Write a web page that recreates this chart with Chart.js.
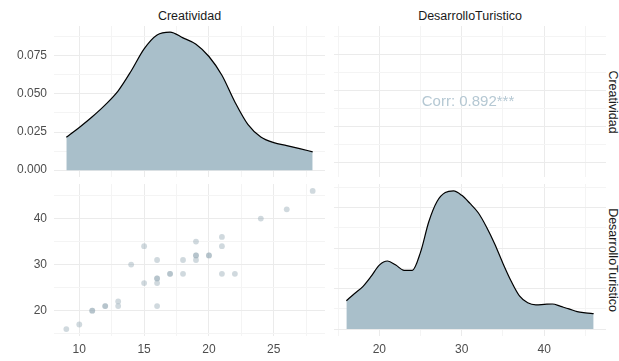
<!DOCTYPE html>
<html>
<head>
<meta charset="utf-8">
<script src="https://cdn.jsdelivr.net/npm/chart.js@4"></script>
<style>
  html, body { margin: 0; padding: 0; background: #fff; }
  #wrap { position: relative; width: 619px; height: 361px; overflow: hidden; font-family: "Liberation Sans", Arial, sans-serif; }
  .cv { position: absolute; }
  .strip { position: absolute; font-size: 12.5px; color: #1a1a1a; white-space: nowrap; transform: translate(-50%, -50%); }
  .vstrip { position: absolute; font-size: 12.5px; color: #1a1a1a; white-space: nowrap; writing-mode: vertical-rl; transform: translate(-50%, -50%); }
</style>
</head>
<body>
<div id="wrap">
  <div class="cv" style="left:0;top:26px;width:325px;height:151px"><canvas id="densA"></canvas></div>
  <div class="cv" style="left:334px;top:26px;width:272px;height:151px"><canvas id="corB"></canvas></div>
  <div class="cv" style="left:0;top:184px;width:325px;height:177px"><canvas id="scatC"></canvas></div>
  <div class="cv" style="left:334px;top:184px;width:272px;height:177px"><canvas id="densD"></canvas></div>
  <div class="strip" style="left:189.5px;top:16px">Creatividad</div>
  <div class="strip" style="left:470px;top:16px">DesarrolloTuristico</div>
  <div class="vstrip" style="left:613px;top:101.5px">Creatividad</div>
  <div class="vstrip" style="left:613px;top:260px">DesarrolloTuristico</div>
</div>
<script>
// densidad de Creatividad
const creatGrid = [9, 10, 11, 12, 13, 14, 15, 16, 17, 18, 19, 20, 21, 22, 23, 24, 25, 26, 27, 28];
const creatDens = [0.0215, 0.028, 0.035, 0.0428, 0.052, 0.065, 0.0795, 0.0886, 0.0905, 0.0867, 0.0826, 0.0745, 0.0622, 0.0447, 0.030, 0.0217, 0.018, 0.0161, 0.0141, 0.012];

// densidad de DesarrolloTuristico
const desaGrid = [16, 17, 18, 19, 20, 21, 22, 23, 24, 25, 26, 27, 28, 29, 30, 31, 32, 33, 34, 35, 36, 37, 38, 39, 40, 41, 42, 43, 44, 45, 46];
const desaDens = [0.0070, 0.0088, 0.0105, 0.0130, 0.0158, 0.0168, 0.0158, 0.0145, 0.0145, 0.0190, 0.0265, 0.0315, 0.0337, 0.0341, 0.0330, 0.0310, 0.0287, 0.0252, 0.0210, 0.0162, 0.0118, 0.0082, 0.0065, 0.0060, 0.0061, 0.0062, 0.0056, 0.0050, 0.0043, 0.0040, 0.0038];

// observaciones
const creatividad = [9, 10, 11, 11, 12, 12, 13, 13, 14, 15, 15, 16, 16, 16, 16, 16, 17, 17, 18, 18, 19, 19, 19, 19, 20, 20, 21, 21, 21, 22, 24, 26, 28];
const desarrollo  = [16, 17, 20, 20, 21, 21, 22, 21, 30, 34, 26, 31, 27, 27, 26, 21, 28, 28, 31, 28, 35, 32, 32, 31, 32, 32, 36, 34, 28, 28, 40, 42, 46];

const corrLabel = 'Corr: 0.892***';

// ticks
const creatTicks = [10, 12.5, 15, 17.5, 20, 22.5, 25, 27.5];
const creatLabels = [10, 15, 20, 25];
const densTicks = [0, 0.0125, 0.025, 0.0375, 0.05, 0.0625, 0.075, 0.0875];
const densLabels = [0, 0.025, 0.05, 0.075];
const desaTicks = [15, 20, 25, 30, 35, 40, 45];
const desaLabels = [20, 30, 40];
const desaDensTicks = [0, 0.005, 0.01, 0.015, 0.02, 0.025, 0.03, 0.035];
const desaDensLabels = [0, 0.01, 0.02, 0.03];

const fillCol = '#a9bfca';
const pointCol = 'rgba(150,170,182,0.45)';
const FONT = "'Liberation Sans', Arial, sans-serif";

function near(v, list) { return list.some(l => Math.abs(l - v) < 1e-9); }

function axis(opts) {
  // opts: min, max, ticks, labels, showLabels, size, fmt
  return {
    type: 'linear',
    min: opts.min, max: opts.max,
    border: { display: false },
    grid: {
      drawTicks: false,
      color: ctx => near(ctx.tick.value, opts.labels) ? '#ebebeb' : '#f4f4f4',
      lineWidth: 1
    },
    ticks: {
      display: opts.showLabels,
      autoSkip: false,
      padding: opts.pad || 6,
      color: '#4d4d4d',
      font: { family: FONT, size: 12 },
      callback: v => near(v, opts.labels) ? (opts.fmt ? opts.fmt(v) : String(v)) : ''
    },
    afterBuildTicks: s => { s.ticks = opts.ticks.map(v => ({ value: v })); },
    afterFit: s => {
      if (s.isHorizontal()) s.height = opts.size; else s.width = opts.size;
      // no reservar margen extra para las etiquetas
      s.paddingTop = 0; s.paddingBottom = 0; s.paddingLeft = 0; s.paddingRight = 0;
    }
  };
}

const base = {
  animation: false,
  responsive: true,
  maintainAspectRatio: false,
  layout: { padding: 0, autoPadding: false },
  plugins: { legend: { display: false }, tooltip: { enabled: false } }
};

// panel superior izquierdo: densidad Creatividad
new Chart(document.getElementById('densA'), {
  type: 'line',
  data: {
    datasets: [{
      data: creatGrid.map((x, i) => ({ x: x, y: creatDens[i] })),
      fill: 'origin',
      backgroundColor: fillCol,
      borderColor: '#000',
      borderWidth: 1.2,
      pointRadius: 0,
      cubicInterpolationMode: 'monotone'
    }]
  },
  options: Object.assign({}, base, {
    scales: {
      x: axis({ min: 8.05, max: 28.95, ticks: creatTicks, labels: creatLabels, showLabels: false, size: 0 }),
      y: axis({ min: -0.0045, max: 0.0945, ticks: densTicks, labels: densLabels, showLabels: true, size: 54, pad: 7, fmt: v => v.toFixed(3) })
    }
  })
});

// panel superior derecho: correlacion
new Chart(document.getElementById('corB'), {
  type: 'scatter',
  data: { datasets: [{ data: [] }] },
  options: Object.assign({}, base, {
    scales: {
      x: axis({ min: 14.5, max: 47.5, ticks: desaTicks, labels: desaLabels, showLabels: false, size: 0 }),
      y: axis({ min: 8.05, max: 28.95, ticks: creatTicks, labels: creatLabels, showLabels: false, size: 0 })
    }
  }),
  plugins: [{
    id: 'corrText',
    afterDraw(chart) {
      const a = chart.chartArea;
      const c = chart.ctx;
      c.save();
      c.fillStyle = '#b5c8d3';
      c.font = '15px ' + FONT;
      c.textAlign = 'center';
      c.textBaseline = 'middle';
      c.fillText(corrLabel, (a.left + a.right) / 2 - 2, (a.top + a.bottom) / 2);
      c.restore();
    }
  }]
});

// panel inferior izquierdo: dispersion
new Chart(document.getElementById('scatC'), {
  type: 'scatter',
  data: {
    datasets: [{
      data: creatividad.map((x, i) => ({ x: x, y: desarrollo[i] })),
      backgroundColor: pointCol,
      borderWidth: 0,
      pointRadius: 2.9
    }]
  },
  options: Object.assign({}, base, {
    scales: {
      x: axis({ min: 8.05, max: 28.95, ticks: creatTicks, labels: creatLabels, showLabels: true, size: 25, pad: 6 }),
      y: axis({ min: 14.5, max: 47.5, ticks: desaTicks, labels: desaLabels, showLabels: true, size: 54, pad: 7 })
    }
  })
});

// panel inferior derecho: densidad DesarrolloTuristico
new Chart(document.getElementById('densD'), {
  type: 'line',
  data: {
    datasets: [{
      data: desaGrid.map((x, i) => ({ x: x, y: desaDens[i] })),
      fill: 'origin',
      backgroundColor: fillCol,
      borderColor: '#000',
      borderWidth: 1.2,
      pointRadius: 0,
      cubicInterpolationMode: 'monotone'
    }]
  },
  options: Object.assign({}, base, {
    scales: {
      x: axis({ min: 14.5, max: 47.5, ticks: desaTicks, labels: desaLabels, showLabels: true, size: 25, pad: 6 }),
      y: axis({ min: -0.0017, max: 0.0358, ticks: desaDensTicks, labels: desaDensLabels, showLabels: false, size: 0 })
    }
  })
});
</script>
</body>
</html>
